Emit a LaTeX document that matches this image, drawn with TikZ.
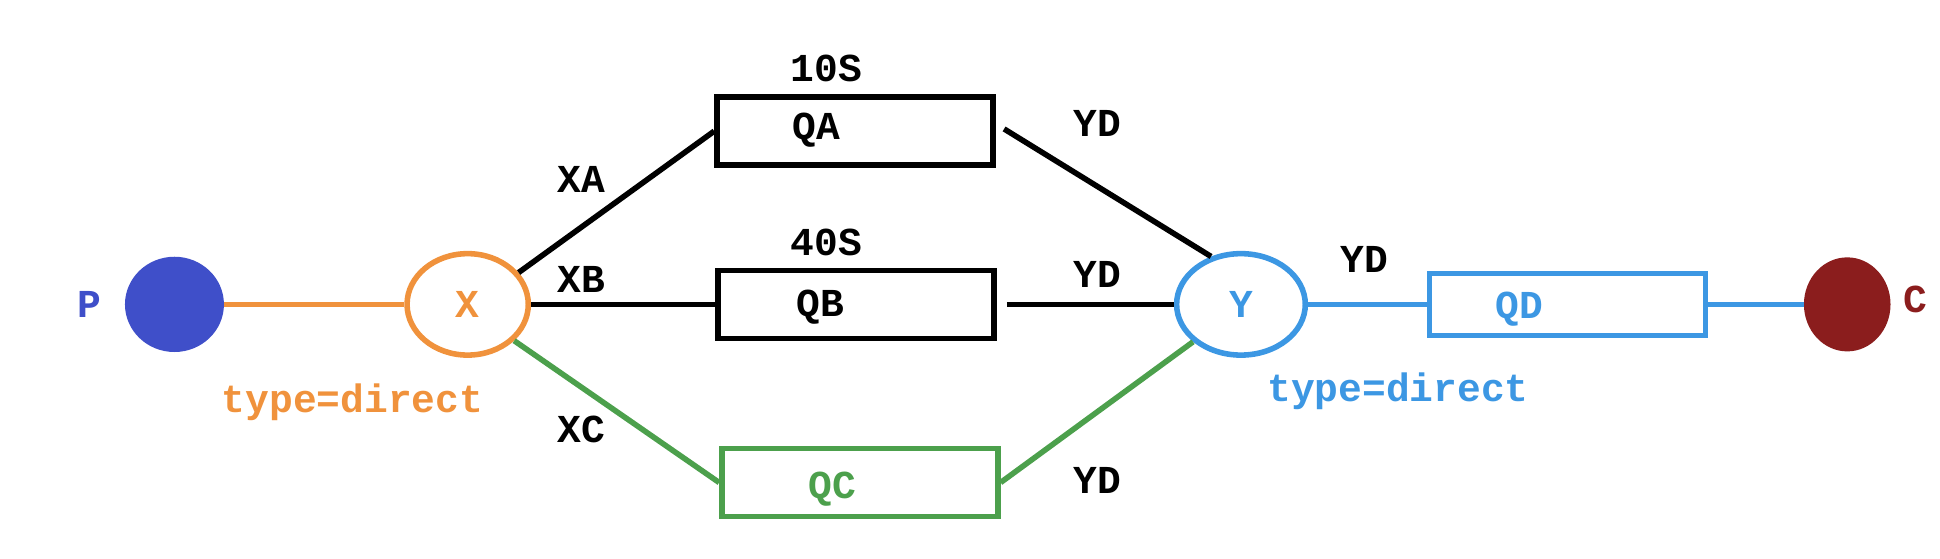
\documentclass[tikz,border=0pt]{standalone}
\usepackage{fontspec}
\setmainfont{Liberation Mono}
\usetikzlibrary{shapes.geometric}
\definecolor{pblue}{RGB}{63,79,201}
\definecolor{xorange}{RGB}{240,146,60}
\definecolor{qgreen}{RGB}{76,160,76}
\definecolor{yblue}{RGB}{60,151,227}
\definecolor{cred}{RGB}{139,29,29}
\begin{document}
\begin{tikzpicture}[x=1pt,y=-1pt,
  lbl/.style={font=\fontsize{32}{35}\selectfont\bfseries, inner sep=0pt},
  dot/.style={ellipse, inner sep=0pt},
  exch/.style={ellipse, line width=4.5pt, inner sep=0pt, minimum width=98pt, minimum height=82pt, font=\fontsize{32}{35}\selectfont\bfseries},
  qbox/.style={rectangle, line width=4.5pt, minimum width=223pt, minimum height=55pt, inner sep=0pt},
  conn/.style={line width=4.5pt}]
\useasboundingbox (0,0) rectangle (1568,451);
% producer / consumer
\node[dot, fill=pblue, minimum width=80pt, minimum height=77pt] (P) at (141,246) {};
\node[lbl, text=pblue] (Plbl) at (72,246) {P};
\node[dot, fill=cred, minimum width=70pt, minimum height=76pt] (C) at (1493,246) {};
\node[lbl, text=cred] (Clbl) at (1548,242) {C};
% exchanges
\node[exch, draw=xorange, text=xorange] (X) at (378,246) {X};
\node[exch, draw=yblue, text=yblue, minimum width=104pt, minimum height=82pt] (Y) at (1003,246) {Y};
\node[lbl, text=xorange] (Xtype) at (285,325) {type=direct};
\node[lbl, text=yblue] (Ytype) at (1130,316) {type=direct};
% queues
\node[qbox, draw=black] (QA) at (691,106) {};
\node[qbox, draw=black] (QB) at (692,246) {};
\node[qbox, draw=qgreen] (QC) at (695,390) {};
\node[qbox, draw=yblue, minimum height=50pt] (QD) at (1267,246) {};
\node[lbl] (QAlbl) at (660,105) {QA};
\node[lbl] (QBlbl) at (663,248) {QB};
\node[lbl, text=qgreen] (QClbl) at (673,395) {QC};
\node[lbl, text=yblue] (QDlbl) at (1228,250) {QD};
\node[lbl] (ttlA) at (668,55) {10S};
\node[lbl] (ttlB) at (668,196) {40S};
% routing keys
\node[lbl] (kXA) at (470,145) {XA};
\node[lbl] (kXB) at (470,226) {XB};
\node[lbl] (kXC) at (470,347) {XC};
\node[lbl] (kYA) at (887,100) {YD};
\node[lbl] (kYB) at (887,222) {YD};
\node[lbl] (kYC) at (887,388) {YD};
\node[lbl] (kYD) at (1103,210) {YD};
% connectors
\draw[conn, xorange] (P.east) -- (X.west);
\draw[conn, black] (X.32) -- (QA.west);
\draw[conn, black] (X.east) -- (QB.west);
\draw[conn, qgreen] (X.-38) -- (QC.west);
\draw[conn, black, shorten <=8pt] ([yshift=6pt]QA.east) -- (Y.122);
\draw[conn, black, shorten <=8pt] (QB.east) -- (Y.west);
\draw[conn, qgreen] (QC.east) -- (Y.218);
\draw[conn, yblue] (Y.east) -- (QD.west);
\draw[conn, yblue] (QD.east) -- (C.west);
\end{tikzpicture}
\end{document}
